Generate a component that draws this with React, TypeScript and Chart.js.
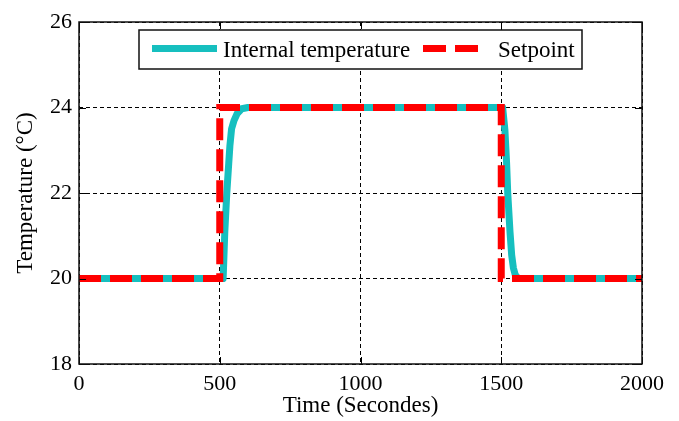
import React, { useEffect, useRef } from "react";
import { Chart, registerables } from "chart.js";

Chart.register(...registerables);

// ---- data ----
const setpointTime = [0, 500, 500, 1500, 1500, 2000];
const setpointValues = [20, 20, 24, 24, 20, 20];
const internalTime = [0, 512, 518, 525, 532, 536, 542, 551, 562, 578, 600, 1505, 1513, 1519, 1523, 1531, 1537, 1543, 1550, 1560, 2000];
const internalValues = [20, 20, 21.1, 22, 22.7, 23.1, 23.5, 23.7, 23.86, 23.97, 24, 24, 23.47, 22.7, 22, 21.1, 20.55, 20.25, 20.08, 20, 20];
const xTickValues = [0, 500, 1000, 1500, 2000];
const yTickValues = [18, 20, 22, 24, 26];
const internalLabel = "Internal temperature";
const setpointLabel = "Setpoint";
const xTitle = "Time (Secondes)";
const yTitle = "Temperature (°C)";

const TEAL = "#16BFBF";
const RED = "#FF0000";
const FONT = "'Liberation Serif', 'Times New Roman', serif";

const framePlugin = {
  id: "frameAndLegend",
  afterDraw(chart: any) {
    const ctx = chart.ctx as CanvasRenderingContext2D;
    const ca = chart.chartArea;
    const xs = chart.scales.x;
    const ys = chart.scales.y;
    ctx.save();
    // inward tick marks
    ctx.strokeStyle = "#000";
    ctx.lineWidth = 1;
    ctx.setLineDash([]);
    const tl = 7;
    ctx.beginPath();
    xs.ticks.forEach((t: any) => {
      const px = Math.round(xs.getPixelForValue(t.value)) + 0.5;
      ctx.moveTo(px, ca.top);
      ctx.lineTo(px, ca.top + tl);
      ctx.moveTo(px, ca.bottom);
      ctx.lineTo(px, ca.bottom - tl);
    });
    ys.ticks.forEach((t: any) => {
      const py = Math.round(ys.getPixelForValue(t.value)) + 0.5;
      ctx.moveTo(ca.left, py);
      ctx.lineTo(ca.left + tl, py);
      ctx.moveTo(ca.right, py);
      ctx.lineTo(ca.right - tl, py);
    });
    ctx.stroke();
    // frame
    ctx.lineWidth = 1.5;
    ctx.strokeStyle = "#111";
    ctx.strokeRect(ca.left, ca.top, ca.right - ca.left, ca.bottom - ca.top);

    // legend box
    const bw = 443;
    const bh = 39;
    const cx = (ca.left + ca.right) / 2;
    const bx = Math.round(cx - bw / 2);
    const by = ca.top + 8;
    ctx.fillStyle = "#fff";
    ctx.fillRect(bx, by, bw, bh);
    ctx.lineWidth = 1.5;
    ctx.strokeStyle = "#111";
    ctx.strokeRect(bx, by, bw, bh);
    const my = by + 18.5;
    // item 1
    ctx.lineWidth = 7;
    ctx.lineCap = "butt";
    ctx.strokeStyle = TEAL;
    ctx.beginPath();
    ctx.moveTo(bx + 13, my);
    ctx.lineTo(bx + 78, my);
    ctx.stroke();
    ctx.fillStyle = "#000";
    ctx.font = `23px ${FONT}`;
    ctx.textBaseline = "alphabetic";
    ctx.textAlign = "left";
    ctx.fillText(internalLabel, bx + 84, by + 27);
    // item 2
    ctx.strokeStyle = RED;
    ctx.setLineDash([23, 9]);
    ctx.beginPath();
    ctx.moveTo(bx + 284, my);
    ctx.lineTo(bx + 340, my);
    ctx.stroke();
    ctx.setLineDash([]);
    ctx.fillText(setpointLabel, bx + 359, by + 27);
    ctx.restore();
  },
};

export default function App() {
  const canvasRef = useRef<HTMLCanvasElement | null>(null);

  useEffect(() => {
    document.body.style.margin = "0";
    const canvas = canvasRef.current;
    if (!canvas) return;
    Chart.defaults.font.family = FONT;
    Chart.defaults.color = "#000";

    const chart = new Chart(canvas, {
      type: "line",
      data: {
        datasets: [
          {
            label: setpointLabel,
            data: setpointTime.map((t, i) => ({ x: t, y: setpointValues[i] })),
            borderColor: RED,
            backgroundColor: RED,
            borderWidth: 7,
            borderDash: [22, 9],
            borderCapStyle: "butt",
            borderJoinStyle: "miter",
            pointRadius: 0,
            tension: 0,
            fill: false,
          },
          {
            label: internalLabel,
            data: internalTime.map((t, i) => ({ x: t, y: internalValues[i] })),
            borderColor: TEAL,
            backgroundColor: TEAL,
            borderWidth: 7,
            borderCapStyle: "butt",
            borderJoinStyle: "round",
            pointRadius: 0,
            tension: 0,
            fill: false,
          },
        ],
      },
      options: {
        responsive: false,
        animation: false,
        devicePixelRatio: 1,
        layout: { padding: { top: 22, right: 37, left: 0, bottom: 0 } },
        plugins: {
          legend: { display: false },
          tooltip: { enabled: false },
        },
        scales: {
          x: {
            type: "linear",
            min: 0,
            max: 2000,
            afterBuildTicks: (s: any) => {
              s.ticks = xTickValues.map((v) => ({ value: v }));
            },
            afterFit: (s: any) => {
              s.height = 57;
            },
            ticks: {
              padding: 7,
              font: { size: 22, family: FONT },
              color: "#000",
              maxRotation: 0,
              autoSkip: false,
              callback: (v: any) => String(v),
            },
            grid: { color: "#000", lineWidth: 1, drawTicks: false },
            border: { display: false, dash: [4, 3] },
            title: {
              display: true,
              text: xTitle,
              font: { size: 23, family: FONT },
              color: "#000",
              padding: { top: 0, bottom: 1 },
            },
          },
          y: {
            type: "linear",
            min: 18,
            max: 26,
            afterBuildTicks: (s: any) => {
              s.ticks = yTickValues.map((v) => ({ value: v }));
            },
            afterFit: (s: any) => {
              s.width = 79;
            },
            ticks: {
              padding: 7,
              font: { size: 22, family: FONT },
              color: "#000",
              autoSkip: false,
              callback: (v: any) => String(v),
            },
            grid: { color: "#000", lineWidth: 1, drawTicks: false },
            border: { display: false, dash: [4, 3] },
            title: {
              display: true,
              text: yTitle,
              font: { size: 23, family: FONT },
              color: "#000",
              padding: { top: 12, bottom: 0 },
            },
          },
        },
      },
      plugins: [framePlugin],
    });

    return () => chart.destroy();
  }, []);

  return (
    <div style={{ width: 679, height: 421, background: "#fff" }}>
      <canvas ref={canvasRef} width={679} height={421} style={{ display: "block" }} />
    </div>
  );
}
